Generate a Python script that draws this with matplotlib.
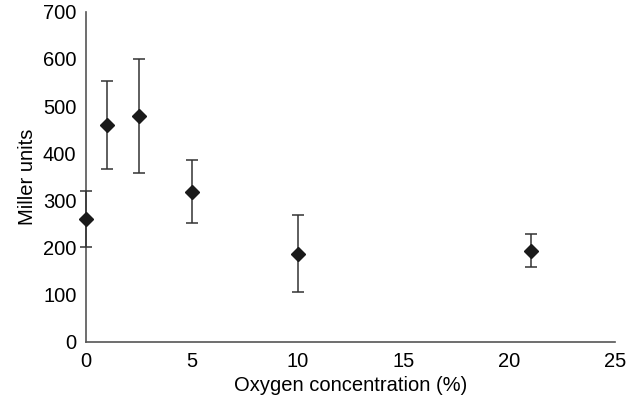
import matplotlib.pyplot as plt

oxygen = [0, 1, 2.5, 5, 10, 21]
miller = [260, 460, 479, 318, 187, 193]
err = [59, 93, 121, 67, 82, 35]

x_ticks = [0, 5, 10, 15, 20, 25]
y_ticks = [0, 100, 200, 300, 400, 500, 600, 700]

plt.rcParams['font.family'] = ['Liberation Sans', 'DejaVu Sans']

fig = plt.figure(figsize=(6.29, 4.05), dpi=100)
ax = fig.add_axes([0.137, 0.156, 0.841, 0.815])

ax.errorbar(oxygen, miller, yerr=err, fmt='D', color='#1a1a1a', ecolor='#333333',
            elinewidth=1.1, capsize=4, capthick=1.1, markersize=7.5, clip_on=False, zorder=3)

ax.set_xlim(0, 25)
ax.set_ylim(0, 700)
ax.set_xticks(x_ticks)
ax.set_yticks(y_ticks)
ax.tick_params(length=0, labelsize=14.5, pad=7)
for s in ['top', 'right']:
    ax.spines[s].set_visible(False)
for s in ['left', 'bottom']:
    ax.spines[s].set_color('#555555')
    ax.spines[s].set_linewidth(1.2)

ax.set_xlabel('Oxygen concentration (%)', fontsize=14.5, labelpad=4)
ax.set_ylabel('Miller units', fontsize=14.5, labelpad=4)

fig.savefig('out.png', dpi=100)
